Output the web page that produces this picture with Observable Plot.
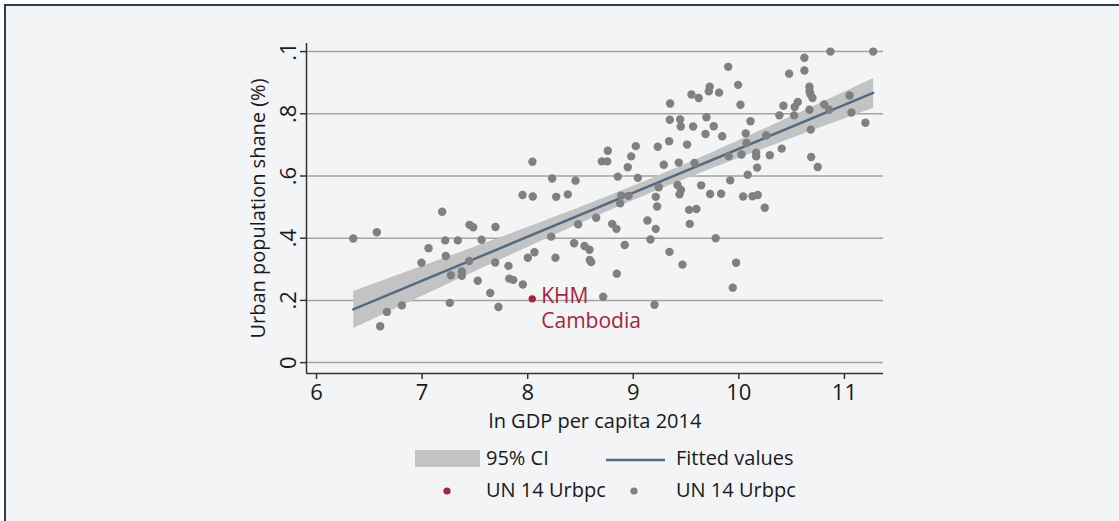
<!DOCTYPE html>
<html><head><meta charset="utf-8">
<script src="https://cdn.jsdelivr.net/npm/d3@7"></script>
<script src="https://cdn.jsdelivr.net/npm/@observablehq/plot@0.6"></script>
<style>
html,body{margin:0;padding:0;background:#fff;}
body{width:1119px;height:521px;overflow:hidden;position:relative;font-family:"Open Sans",sans-serif;}
#bg{position:absolute;left:4px;top:4px;right:0;bottom:0;background:#f3f4f6;border-top:2px solid #2c3e55;border-left:2px solid #2c3e55;}
#chart{position:absolute;left:0;top:0;width:1119px;}
#chart svg{display:block;}
</style></head><body><div id="bg"></div><div id="chart"></div>
<script>
const gdp = [6.348,6.571,7.190,7.449,7.484,7.695,7.219,7.338,7.563,7.061,6.994,7.224,7.446,7.692,7.272,7.376,7.376,7.527,7.645,7.723,7.262,6.808,6.666,6.603,
7.818,7.825,7.863,7.954,8.001,8.064,8.263,8.223,7.951,8.048,8.045,8.232,8.453,8.270,8.380,8.440,8.478,8.538,8.585,8.588,8.601,8.649,8.715,8.844,8.800,8.841,
8.919,8.876,8.885,8.955,8.853,9.043,8.948,8.702,8.753,8.759,8.980,9.024,9.163,9.134,9.213,9.226,9.213,9.241,9.201,9.343,9.466,9.419,9.451,9.438,9.289,9.431,
9.580,9.232,9.340,9.510,9.450,9.567,9.529,9.598,9.535,9.349,9.346,9.444,9.551,9.620,9.643,9.728,9.832,10.041,10.129,10.179,10.245,9.781,9.974,9.942,9.918,
10.084,10.173,9.904,10.025,10.164,10.164,10.293,10.406,10.685,10.747,9.693,9.762,9.684,9.842,10.065,10.072,10.110,10.259,10.015,9.993,9.899,9.724,9.715,9.813,
10.384,10.422,10.523,10.529,10.558,10.476,10.621,10.621,10.867,11.272,10.669,10.669,10.678,10.697,10.669,10.681,10.808,10.855,11.048,11.066,11.199];
const urb = [0.399,0.419,0.485,0.443,0.435,0.436,0.393,0.393,0.395,0.368,0.321,0.343,0.327,0.322,0.281,0.293,0.279,0.263,0.224,0.179,0.192,0.184,0.163,0.117,
0.311,0.270,0.266,0.251,0.337,0.355,0.337,0.405,0.539,0.534,0.646,0.592,0.585,0.533,0.541,0.384,0.445,0.375,0.363,0.330,0.323,0.466,0.212,0.286,0.446,0.430,
0.378,0.512,0.537,0.536,0.598,0.594,0.628,0.647,0.647,0.681,0.663,0.696,0.396,0.457,0.430,0.502,0.533,0.564,0.186,0.356,0.315,0.571,0.555,0.541,0.636,0.643,
0.642,0.694,0.712,0.701,0.759,0.759,0.491,0.494,0.446,0.833,0.781,0.782,0.862,0.851,0.570,0.542,0.543,0.534,0.535,0.539,0.498,0.400,0.321,0.241,0.586,
0.604,0.627,0.663,0.669,0.675,0.663,0.667,0.688,0.661,0.629,0.789,0.760,0.735,0.728,0.737,0.706,0.776,0.730,0.829,0.893,0.951,0.887,0.872,0.868,
0.795,0.826,0.795,0.822,0.838,0.929,0.939,0.980,1.000,1.000,0.887,0.873,0.863,0.851,0.813,0.749,0.830,0.813,0.859,0.804,0.771];
const khmGdp = [8.043];
const khmUrb = [0.205];
const khmLabel = ["KHM\nCambodia"];
const xTicks = [6,7,8,9,10,11];
const yTicks = [0,0.2,0.4,0.6,0.8,1];
const yTickLabels = ["0",".2",".4",".6",".8",".1"];
const xTitle = "ln GDP per capita 2014";
const yTitle = "Urban population shane (%)";
const legendLabels = ["95% CI","Fitted values","UN 14 Urbpc","UN 14 Urbpc"];

const gray = gdp.map((x,i)=>({x, y: urb[i]}));
const khm = khmGdp.map((x,i)=>({x, y: khmUrb[i], label: khmLabel[i]}));
const all = gray.concat(khm);

const lineColor = "#516b84", bandColor = "#c3c3c3", dotColor = "#808080", red = "#a3263b", axisColor = "#333";

const plot = Plot.plot({
  width:1119, height:440, marginLeft:306, marginRight:236, marginTop:43, marginBottom:67,
  style:{background:"transparent", fontFamily:"Open Sans", color:"#1a1a1a"},
  x:{domain:[5.905,11.37]},
  y:{domain:[-0.035,1.026]},
  marks:[
    Plot.gridY(yTicks,{stroke:"#a3a3a3", strokeOpacity:1, strokeWidth:1.5}),
    Plot.linearRegressionY(all,{x:"x", y:"y", stroke:lineColor, strokeWidth:2.5, fill:bandColor, fillOpacity:1}),
    Plot.dot(khm,{x:"x", y:"y", r:3.7, fill:red}),
    Plot.text(khm,{x:"x", y:"y", text:"label", fill:red, textAnchor:"start", lineAnchor:"top", dx:9, dy:-14, fontSize:21, lineHeight:1.19}),
    Plot.dot(gray,{x:"x", y:"y", r:4.2, fill:dotColor}),
    Plot.ruleX([5.905],{stroke:axisColor, strokeWidth:1.5}),
    Plot.ruleY([-0.035],{stroke:axisColor, strokeWidth:1.5}),
    Plot.axisX(xTicks,{tickSize:6, tickPadding:5, fontSize:22, label:null, stroke:axisColor, strokeWidth:1.5}),
    Plot.axisY(yTicks,{tickFormat:d=>yTickLabels[yTicks.indexOf(d)], tickRotate:-90, tickSize:6, tickPadding:5, fontSize:22, label:null, stroke:axisColor, strokeWidth:1.5}),
    Plot.text([xTitle],{text:d=>d, frameAnchor:"bottom", textAnchor:"middle", dy:54, fontSize:20}),
    Plot.text([yTitle],{text:d=>d, frameAnchor:"left", textAnchor:"middle", dx:-48, rotate:-90, fontSize:20})
  ]
});
document.getElementById("chart").appendChild(plot);

const leg = d3.create("svg").attr("width",1119).attr("height",81)
  .style("font-family","Open Sans").style("font-size","20px").style("display","block");
leg.append("rect").attr("x",415).attr("y",10).attr("width",65).attr("height",17).attr("fill",bandColor);
leg.append("text").attr("x",486).attr("y",25).attr("fill","#1a1a1a").text(legendLabels[0]);
leg.append("line").attr("x1",606).attr("x2",665).attr("y1",20).attr("y2",20).attr("stroke",lineColor).attr("stroke-width",2.5);
leg.append("text").attr("x",676).attr("y",25).attr("fill","#1a1a1a").text(legendLabels[1]);
leg.append("circle").attr("cx",447).attr("cy",51).attr("r",3.6).attr("fill",red);
leg.append("text").attr("x",486).attr("y",57).attr("fill","#1a1a1a").text(legendLabels[2]);
leg.append("circle").attr("cx",634).attr("cy",51).attr("r",3.6).attr("fill",dotColor);
leg.append("text").attr("x",676).attr("y",57).attr("fill","#1a1a1a").text(legendLabels[3]);
document.getElementById("chart").appendChild(leg.node());
</script>
</body></html>
